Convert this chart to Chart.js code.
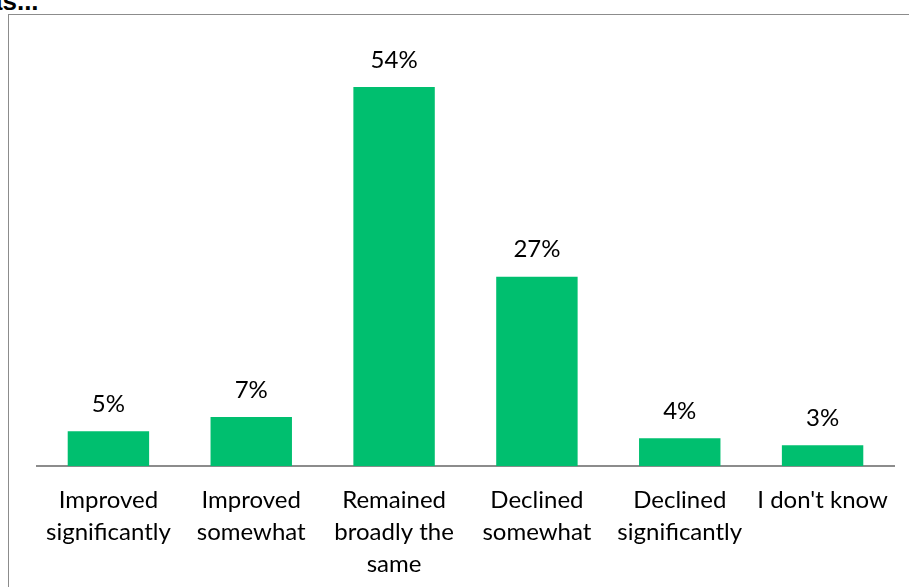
<!DOCTYPE html>
<html>
<head>
<meta charset="utf-8">
<script src="https://cdn.jsdelivr.net/npm/chart.js@4/dist/chart.umd.min.js"></script>
<style>
  body { margin: 0; background: #fff; overflow: hidden; }
  #wrap { position: relative; width: 909px; height: 587px; overflow: hidden; }
  #frame { position: absolute; left: 8px; top: 14px; width: 960px; height: 640px; border: 1px solid #8c8c8c; box-sizing: border-box; }
  #title { position: absolute; left: -12px; top: -14px; line-height: 1; font: bold 26px "Liberation Sans", sans-serif; color: #000; }
  canvas { position: absolute; left: 0; top: 0; }
</style>
</head>
<body>
<div id="wrap">
  <div id="frame"></div>
  <div id="title">as...</div>
  <canvas id="chart" width="909" height="603"></canvas>
</div>
<script>
  var categories = [
    ['Improved', 'significantly'],
    ['Improved', 'somewhat'],
    ['Remained', 'broadly the', 'same'],
    ['Declined', 'somewhat'],
    ['Declined', 'significantly'],
    "I don't know"
  ];
  var shares = [5, 7, 54, 27, 4, 3];

  // write the percentage above each bar
  var valueLabels = {
    id: 'valueLabels',
    afterDatasetsDraw: function (chart) {
      var ctx = chart.ctx;
      var meta = chart.getDatasetMeta(0);
      ctx.save();
      ctx.font = '24px Lato, sans-serif';
      ctx.fillStyle = '#000';
      ctx.textAlign = 'center';
      ctx.textBaseline = 'bottom';
      meta.data.forEach(function (bar, i) {
        ctx.fillText(shares[i] + '%', bar.x, bar.y - 15);
      });
      ctx.restore();
    }
  };

  var ctx = document.getElementById('chart').getContext('2d');
  var chart = new Chart(ctx, {
    type: 'bar',
    data: {
      labels: categories,
      datasets: [{
        data: shares,
        backgroundColor: '#00bf6f',
        barPercentage: 0.57,
        categoryPercentage: 1
      }]
    },
    options: {
      responsive: false,
      animation: false,
      layout: { padding: { left: 37, right: 15, top: 45, bottom: 5 } },
      plugins: { legend: { display: false }, tooltip: { enabled: false } },
      scales: {
        x: {
          grid: { display: false, drawTicks: false },
          border: { color: '#8c8c8c', width: 2 },
          ticks: {
            color: '#000',
            padding: 18,
            maxRotation: 0,
            autoSkip: false,
            font: { family: 'Lato, sans-serif', size: 24, lineHeight: 1.33 }
          }
        },
        y: { display: false, min: 0, max: 60 }
      }
    },
    plugins: [valueLabels]
  });
</script>
</body>
</html>
